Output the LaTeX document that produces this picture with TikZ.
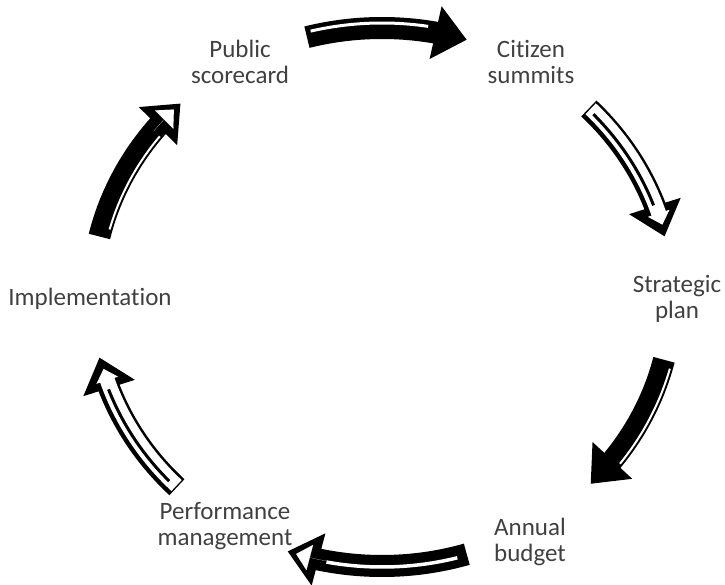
\documentclass[tikz,border=0pt]{standalone}
\usepackage{fontspec}
\setmainfont[Ligatures=NoCommon]{Carlito}
\usetikzlibrary{arrows.meta,bending,calc}
\definecolor{txt}{RGB}{64,64,64}
\tikzset{
  lbl/.style={font=\fontsize{25}{26}\selectfont, text=txt, align=center, inner sep=0pt},
  body/.style={black, line width=22pt, -{Triangle[length=32pt,width=52pt]}},
  inner/.style={white, line width=15pt, -{Triangle[length=12pt,width=22pt]}, shorten >=12pt, shorten <=1.5pt},
  innerhead/.style={white, line width=0.1pt, -{Triangle[length=14pt,width=26pt]}, shorten >=9pt},
  stripe/.style={white, line width=#1},
  blackstripe/.style={black, line width=#1},
}
% #1 style, #2 start angle, #3 end angle, #4 radial offset
\newcommand{\ringarc}[4]{%
  \draw[#1] ($(C)+({(290+#4)*cos(#2)},{(269+#4)*sin(#2)})$)
    arc[start angle=#2, end angle=#3, x radius={290+#4}, y radius={269+#4}];
}
\begin{document}
\begin{tikzpicture}[x=1pt,y=1pt]
\useasboundingbox (0,0) rectangle (725,584);
\coordinate (C) at (382,287);

% labels
\node[lbl] (pub)  at (240,522.5) {Public\\scorecard};
\node[lbl] (cit)  at (531,522.5) {Citizen\\summits};
\node[lbl] (str)  at (677,285) {Strategic\\plan};
\node[lbl] (ann)  at (530,42) {Annual\\budget};
\node[lbl] (perf) at (225,57.5) {Performance\\management};
\node[lbl] (imp)  at (90,285) {Implementation};

% arrow 1: Public scorecard -> Citizen summits
\ringarc{body}{105}{73}{0}
\ringarc{stripe=3pt}{104}{81}{5}

% arrow 2: Citizen summits -> Strategic plan (light)
\ringarc{body}{44.5}{13}{0}
\ringarc{inner}{44.5}{13}{1}
\ringarc{blackstripe=3pt}{43}{20}{-1}

% arrow 3: Strategic plan -> Annual budget
\ringarc{body}{-13.5}{-44}{0}
\ringarc{stripe=2pt}{-15}{-37}{8}

% arrow 4: Annual budget -> Performance management
\ringarc{body}{-73}{-109}{0}
\ringarc{stripe=3.5pt}{-75}{-101}{1}
\ringarc{innerhead}{-100}{-109}{0}

% arrow 5: Performance management -> Implementation (light)
\ringarc{body}{-135}{-167}{0}
\ringarc{inner}{-135}{-167}{-1}
\ringarc{blackstripe=3pt}{-137}{-160}{1}

% arrow 6: Implementation -> Public scorecard
\ringarc{body}{167}{134}{0}
\ringarc{stripe=2pt}{165}{142}{-8}
\ringarc{innerhead}{142}{134}{0}
\end{tikzpicture}
\end{document}
